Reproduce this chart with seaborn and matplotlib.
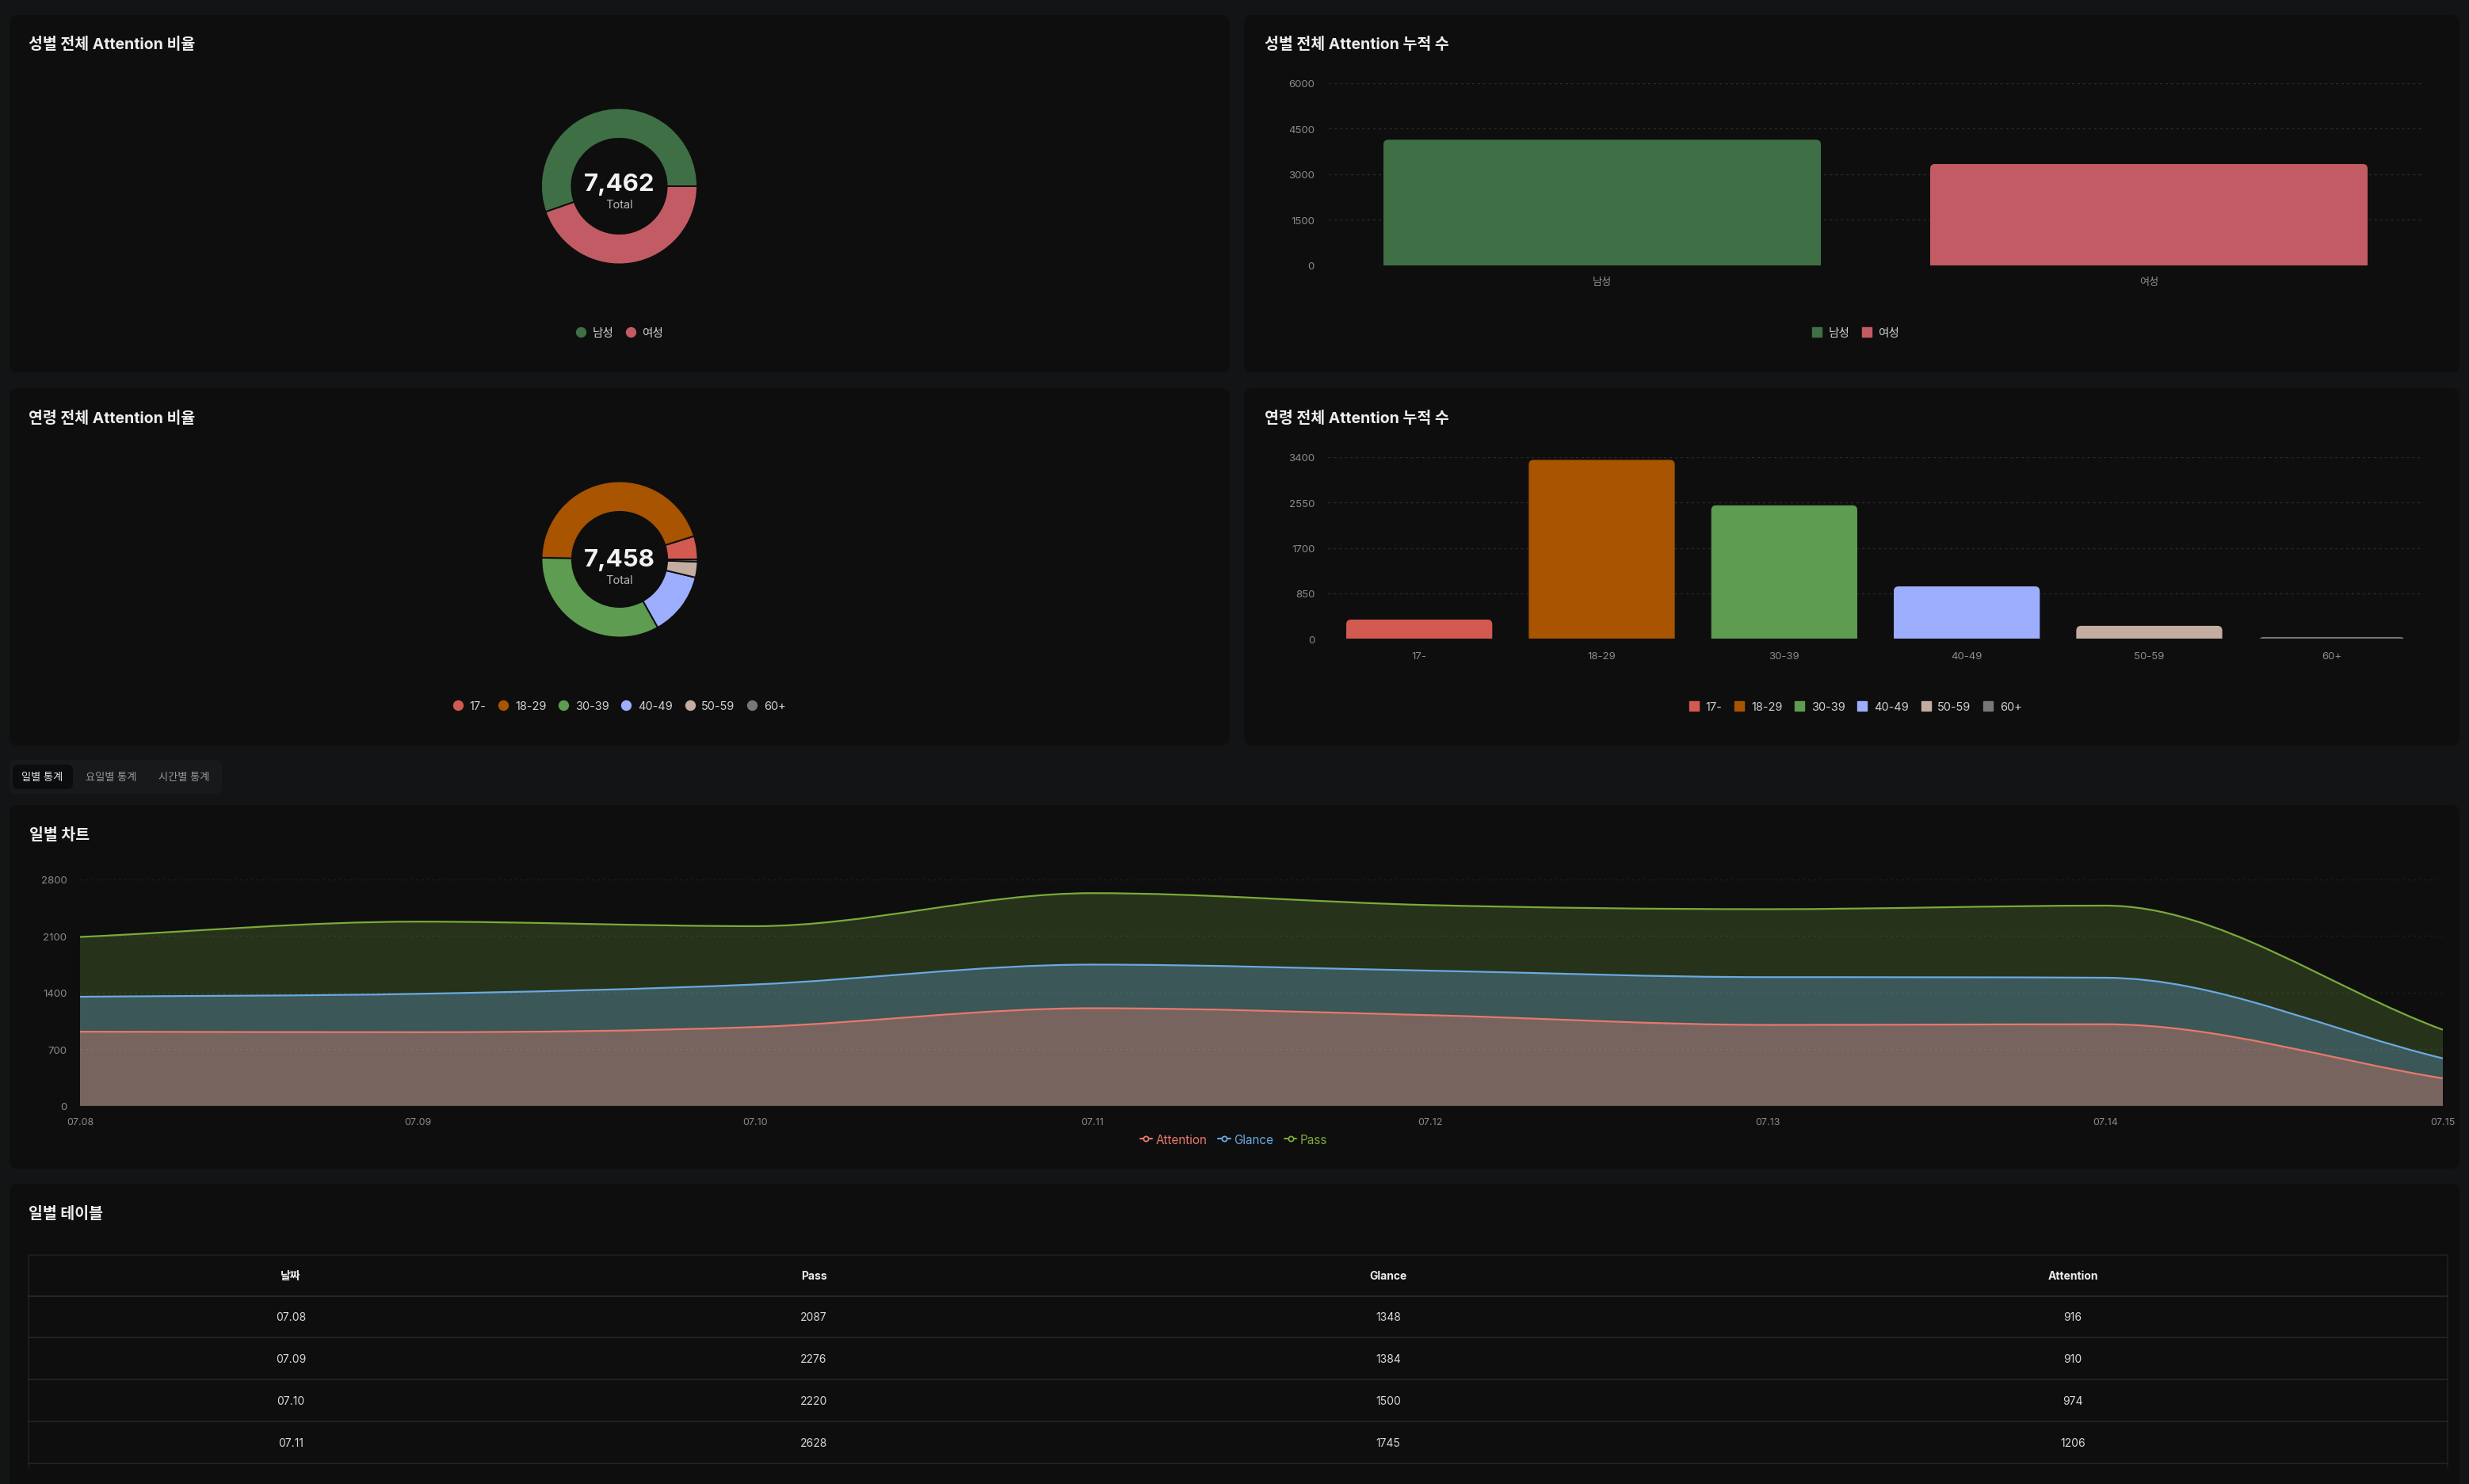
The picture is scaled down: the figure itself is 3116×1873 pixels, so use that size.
import numpy as np
import matplotlib
matplotlib.use('Agg')
import matplotlib.pyplot as plt
import seaborn as sns
from matplotlib.patches import FancyBboxPatch, PathPatch
from matplotlib.path import Path
from matplotlib.lines import Line2D
from matplotlib.transforms import IdentityTransform

W, H = 3116, 1874

# ---- data ----
gender_labels = ['남성', '여성']
gender_values = [4130, 3332]
gender_colors = ['#3f7045', '#c25b63']

age_labels = ['17-', '18-29', '30-39', '40-49', '50-59', '60+']
age_values = [360, 3345, 2495, 980, 243, 35]
age_colors = ['#d25a50', '#a85400', '#5e9c52', '#9eaeff', '#c4ada0', '#777777']

dates = ['07.08', '07.09', '07.10', '07.11', '07.12', '07.13', '07.14', '07.15']
pass_values = [2087, 2276, 2220, 2628, 2480, 2430, 2474, 940]
glance_values = [1348, 1384, 1500, 1745, 1670, 1590, 1583, 587]
attention_values = [916, 910, 974, 1206, 1120, 1000, 1008, 340]

table_header = ['날짜', 'Pass', 'Glance', 'Attention']
table_dates = dates[:4]
table_pass = pass_values[:4]
table_glance = glance_values[:4]
table_attention = attention_values[:4]

PAGE = '#131416'
PANEL = '#0e0e0e'
TICK = '#8b8b8b'
GRID = '#2c2c2c'

sns.set_theme(style='dark')
plt.rcParams['font.family'] = ['Inter', 'Noto Sans CJK KR', 'DejaVu Sans']

fig = plt.figure(figsize=(W / 100, H / 100), dpi=100, facecolor=PAGE)


def px_axes(x0, y0, x1, y1):
    ax = fig.add_axes([x0 / W, 1 - y1 / H, (x1 - x0) / W, (y1 - y0) / H])
    ax.set_facecolor('none')
    return ax


def ftext(x, y, s, **kw):
    kw.setdefault('va', 'center')
    fig.text(x / W, 1 - y / H, s, **kw)


def box(x0, y0, x1, y1, color, r=10):
    p = FancyBboxPatch((x0, H - y1), x1 - x0, y1 - y0,
                       boxstyle=f'round,pad=0,rounding_size={r}',
                       transform=IdentityTransform(), fc=color, ec='none', zorder=-5)
    fig.add_artist(p)


def hline(x0, x1, y, color='#262626', lw=1.2):
    fig.add_artist(Line2D([x0 / W, x1 / W], [1 - y / H, 1 - y / H], color=color, lw=lw))


def vline(x, y0, y1, color='#262626', lw=1.2):
    fig.add_artist(Line2D([x / W, x / W], [1 - y0 / H, 1 - y1 / H], color=color, lw=lw))


def title(x, y, s):
    ftext(x, y, s, ha='left', fontsize=14, fontweight='bold', color='#ededed')


# ---- panels ----
box(12, 20, 1552, 471, PANEL)
box(1570, 20, 3104, 471, PANEL)
box(12, 491, 1552, 942, PANEL)
box(1570, 491, 3104, 942, PANEL)
box(12, 960, 280, 1003, '#17191b', r=8)
box(16, 966, 92, 997, '#0b0c0d', r=7)
box(12, 1017, 3104, 1476, PANEL)
box(12, 1495, 3104, 1900, PANEL)

title(36, 57, '성별 전체 Attention 비율')
title(1596, 56, '성별 전체 Attention 누적 수')
title(36, 529, '연령 전체 Attention 비율')
title(1596, 528, '연령 전체 Attention 누적 수')
title(37, 1055, '일별 차트')
title(36, 1533, '일별 테이블')

ftext(53, 982, '일별 통계', ha='center', fontsize=9.5, color='#e6e6e6')
ftext(140, 982, '요일별 통계', ha='center', fontsize=9.5, color='#9a9a9a')
ftext(232, 982, '시간별 통계', ha='center', fontsize=9.5, color='#9a9a9a')


# ---- donuts ----
def donut(cx, cy, r, values, colors, total_dy):
    ax = px_axes(cx - r, cy - r, cx + r, cy + r)
    ax.pie(values, colors=colors, startangle=0, counterclock=True, radius=1,
           wedgeprops=dict(width=0.39, edgecolor=PANEL, linewidth=1.4))
    ax.set_xlim(-1, 1)
    ax.set_ylim(-1, 1)
    ax.axis('off')
    ax.text(0, total_dy, f'{sum(values):,}', ha='center', va='center',
            fontsize=22.5, fontweight='bold', color='#f2f2f2')
    ax.text(0, total_dy - 0.26, 'Total', ha='center', va='center',
            fontsize=10.5, color='#b5b5b5')


donut(781.5, 236, 98.5, gender_values, gender_colors, 0.03)
donut(782, 707, 98.5, age_values, age_colors, 0.0)


def dot_legend(cx, cy, labels, colors, marker='o', ms=8.6):
    handles = [Line2D([], [], ls='', marker=marker, ms=ms, mfc=c, mec=c) for c in colors]
    fig.legend(handles, labels, loc='center', bbox_to_anchor=(cx / W, 1 - cy / H),
               ncol=len(labels), frameon=False, fontsize=10.5, labelcolor='#d0d0d0',
               handlelength=0.8, handletextpad=0.6, columnspacing=1.1,
               borderaxespad=0, borderpad=0)


dot_legend(782, 421, gender_labels, gender_colors)
dot_legend(782, 892, age_labels, age_colors)
dot_legend(2342, 421, gender_labels, gender_colors, marker='s', ms=8.4)
dot_legend(2342, 893, age_labels, age_colors, marker='s', ms=8.4)


# ---- bar charts ----
def style_axes(ax, pad_y=12, pad_x=11):
    for s in ax.spines.values():
        s.set_visible(False)
    ax.grid(False)
    ax.yaxis.grid(True, color=GRID, linestyle=(0, (2, 3)), linewidth=1)
    ax.set_axisbelow(True)
    ax.tick_params(axis='y', length=0, pad=pad_y, labelsize=9.5, labelcolor=TICK)
    ax.tick_params(axis='x', length=0, pad=pad_x, labelsize=9.5, labelcolor=TICK)
    ax.set_xlabel('')
    ax.set_ylabel('')


def round_tops(ax, ax_px_w, ax_px_h, r_px=6):
    # swap seaborn's square bars for ones with rounded tops
    x0, x1 = ax.get_xlim()
    y0, y1 = ax.get_ylim()
    xu = (x1 - x0) / ax_px_w
    yu = (y1 - y0) / ax_px_h
    for p in list(ax.patches):
        x, w, h = p.get_x(), p.get_width(), p.get_height()
        fc = p.get_facecolor()
        p.remove()
        rp = FancyBboxPatch((x, -r_px * yu), w, h + r_px * yu,
                            boxstyle=f'round,pad=0,rounding_size={r_px * xu}',
                            mutation_aspect=yu / xu, fc=fc, ec='none', zorder=2)
        ax.add_patch(rp)


ax_b1 = px_axes(1677, 105.7, 3057, 335.7)
sns.barplot(x=gender_labels, y=gender_values, hue=gender_labels, palette=gender_colors,
            legend=False, width=0.8, saturation=1, linewidth=0, ax=ax_b1)
ax_b1.set_ylim(0, 6000)
ax_b1.set_yticks([0, 1500, 3000, 4500, 6000])
style_axes(ax_b1, pad_y=13)
round_tops(ax_b1, 3057 - 1677, 230)

ax_b2 = px_axes(1676, 577.7, 3058, 807.3)
sns.barplot(x=age_labels, y=age_values, hue=age_labels, palette=age_colors,
            legend=False, width=0.8, saturation=1, linewidth=0, ax=ax_b2)
ax_b2.set_ylim(0, 3400)
ax_b2.set_yticks([0, 850, 1700, 2550, 3400])
style_axes(ax_b2)
round_tops(ax_b2, 3058 - 1676, 229.6)


# ---- daily area chart ----
def monotone_tangents(y):
    y = np.asarray(y, dtype=float)
    d = np.diff(y)
    m = np.zeros_like(y)
    m[0], m[-1] = d[0], d[-1]
    for k in range(1, len(y) - 1):
        m[k] = 0 if d[k - 1] * d[k] <= 0 else (d[k - 1] + d[k]) / 2
    for k in range(len(d)):
        if d[k] == 0:
            m[k] = m[k + 1] = 0
            continue
        a, b = m[k] / d[k], m[k + 1] / d[k]
        s = a * a + b * b
        if s > 9:
            t = 3 / np.sqrt(s)
            m[k], m[k + 1] = t * a * d[k], t * b * d[k]
    return m


def smooth_path(y):
    m = monotone_tangents(y)
    verts = [(0, y[0])]
    codes = [Path.MOVETO]
    for i in range(len(y) - 1):
        verts += [(i + 1 / 3, y[i] + m[i] / 3), (i + 2 / 3, y[i + 1] - m[i + 1] / 3), (i + 1, y[i + 1])]
        codes += [Path.CURVE4] * 3
    return verts, codes


ax_l = px_axes(101, 1110.7, 3083, 1396.7)
series = [
    ('Pass', pass_values, '#7aaa3a', '#26331a'),
    ('Glance', glance_values, '#6aa9e0', '#3b5757'),
    ('Attention', attention_values, '#e8786c', '#78645e'),
]
n = len(dates)
for name, vals, lc, fc in series:
    verts, codes = smooth_path(vals)
    fverts = verts + [(n - 1, 0), (0, 0), (0, vals[0])]
    fcodes = codes + [Path.LINETO, Path.LINETO, Path.CLOSEPOLY]
    ax_l.add_patch(PathPatch(Path(fverts, fcodes), fc=fc, ec='none', zorder=2))
    ax_l.add_patch(PathPatch(Path(verts, codes), fc='none', ec=lc, lw=1.6, zorder=3))
ax_l.set_xlim(0, n - 1)
ax_l.set_ylim(0, 2800)
ax_l.set_xticks(range(n))
ax_l.set_xticklabels(dates)
ax_l.set_yticks([0, 700, 1400, 2100, 2800])
style_axes(ax_l, pad_y=12, pad_x=10)
ax_l.yaxis.grid(True, color='white', alpha=0.07, linestyle=(0, (2, 3)), linewidth=1, zorder=4)
ax_l.set_axisbelow(False)
ax_l.tick_params(axis='x', labelsize=9)

leg_items = [('Attention', '#e8786c'), ('Glance', '#6aa9e0'), ('Pass', '#7aaa3a')]
handles = [Line2D([], [], color=c, lw=1.5, marker='o', ms=4.5, mfc=PANEL, mec=c, mew=1.3)
           for _, c in leg_items]
fig.legend(handles, [t for t, _ in leg_items], loc='center',
           bbox_to_anchor=(1557 / W, 1 - 1439 / H), ncol=3, frameon=False,
           fontsize=11, labelcolor=[c for _, c in leg_items],
           handlelength=1.0, handletextpad=0.3, columnspacing=0.9,
           borderaxespad=0, borderpad=0)

# ---- table ----
col_x = [367, 1027, 1752, 2616]
row_y = [1663, 1716, 1769, 1822]
hline(36, 3089, 1585, color='#1f1f1f')
vline(36, 1585, 1853, color='#1f1f1f')
vline(3089, 1585, 1853, color='#1f1f1f')
hline(36, 3089, 1637, color='#2a2a2a')
for y in [1689, 1742, 1795, 1848]:
    hline(36, 3089, y, color='#262626')
for x, h in zip(col_x, table_header):
    ftext(x, 1611, h, ha='center', fontsize=10, fontweight='bold', color='#ececec')
for i, y in enumerate(row_y):
    cells = [table_dates[i], table_pass[i], table_glance[i], table_attention[i]]
    for x, c in zip(col_x, cells):
        ftext(x, y, str(c), ha='center', fontsize=10, color='#d8d8d8')

fig.savefig('out.png', dpi=100, facecolor=PAGE)
